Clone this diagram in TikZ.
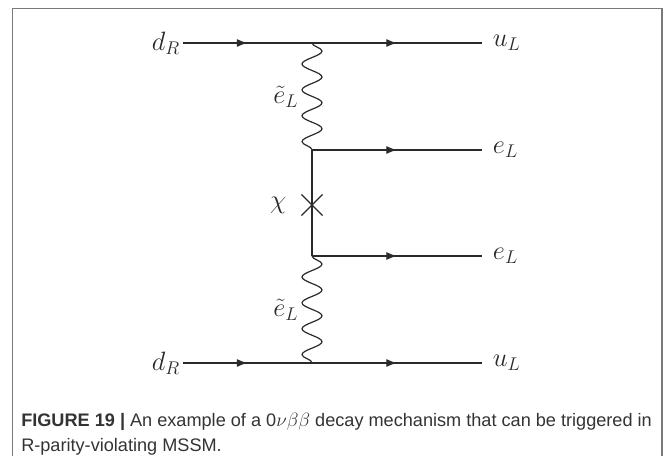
\documentclass[tikz,border=0pt]{standalone}
\usepackage{fontspec}
\newfontfamily\capfont{Liberation Sans}
\usetikzlibrary{positioning,arrows.meta,decorations.pathmorphing,decorations.markings,shapes.misc}
\definecolor{inkgray}{HTML}{2A2A2A}
\definecolor{framegray}{HTML}{7A7A7A}
\definecolor{capgray}{HTML}{333333}
\tikzset{
  fermion/.style={draw=inkgray,line width=0.9pt,postaction={decorate},
    decoration={markings,mark=at position 0.5 with {\arrow[inkgray,line width=0.9pt]{Latex[length=8pt,width=6pt]}}}},
  plainline/.style={draw=inkgray,line width=0.9pt},
  sfermion/.style={draw=inkgray,line width=0.9pt,decorate,
    decoration={snake,amplitude=7.5pt,segment length=19.4pt}},
  lbl/.style={inner sep=0pt,scale=1.15,font=\fontsize{17.28}{20}\selectfont,text=inkgray},
  caption/.style={anchor=base west,inner sep=0pt,text=capgray,font=\capfont\fontsize{13.6}{16}\selectfont}
}
\begin{document}
\begin{tikzpicture}[x=0.75pt,y=-0.75pt]
\useasboundingbox (0,0) rectangle (670,456);
\draw[framegray,line width=1.1pt] (12.5,456) -- (12.5,8.5) -- (662,8.5) -- (662,456);
% vertices and line ends
\coordinate (in1) at (183,43);
\coordinate (vtx1) at (312,43);
\coordinate (out1) at (482,43);
\coordinate (vtx2) at (312,150);
\coordinate (out2) at (482,150);
\coordinate (vtx3) at (312,256);
\coordinate (out3) at (482,256);
\coordinate (in4) at (183,363);
\coordinate (vtx4) at (312,363);
\coordinate (out4) at (482,363);
\coordinate (mid1) at (312,96.5);
\coordinate (mid2) at (312,309.5);
\node[draw=inkgray,line width=0.9pt,cross out,minimum size=15pt,inner sep=0pt] (mass) at (312,205) {};
% quark and lepton lines
\draw[fermion] (in1) -- (vtx1);
\draw[fermion] (vtx1) -- (out1);
\draw[fermion] (vtx2) -- (out2);
\draw[fermion] (vtx3) -- (out3);
\draw[fermion] (in4) -- (vtx4);
\draw[fermion] (vtx4) -- (out4);
\draw[plainline] (vtx2) -- (vtx3);
% selectrons
\draw[sfermion] (vtx1) -- (vtx2);
\draw[sfermion] (vtx3) -- (vtx4);
% labels
\node[lbl,left=2pt of in1] (dR1) {$d_R$};
\node[lbl,left=2pt of in4] (dR2) {$d_R$};
\node[lbl,right=8pt of out1] (uL1) {$u_L$};
\node[lbl,right=8pt of out4] (uL2) {$u_L$};
\node[lbl,right=8pt of out2] (eL1) {$e_L$};
\node[lbl,right=8pt of out3] (eL2) {$e_L$};
\node[lbl,left=10pt of mid1] (se1) {$\tilde{e}_L$};
\node[lbl,left=10pt of mid2] (se2) {$\tilde{e}_L$};
\node[lbl,left=11pt of mass] (chi) {$\chi$};
% caption
\node[caption] (cap1) at (21,426) {\textbf{FIGURE 19 |} An example of a 0$\nu\beta\beta$ decay mechanism that can be triggered in};
\node[caption] (cap2) at (21,451) {R-parity-violating MSSM.};
\end{tikzpicture}
\end{document}
